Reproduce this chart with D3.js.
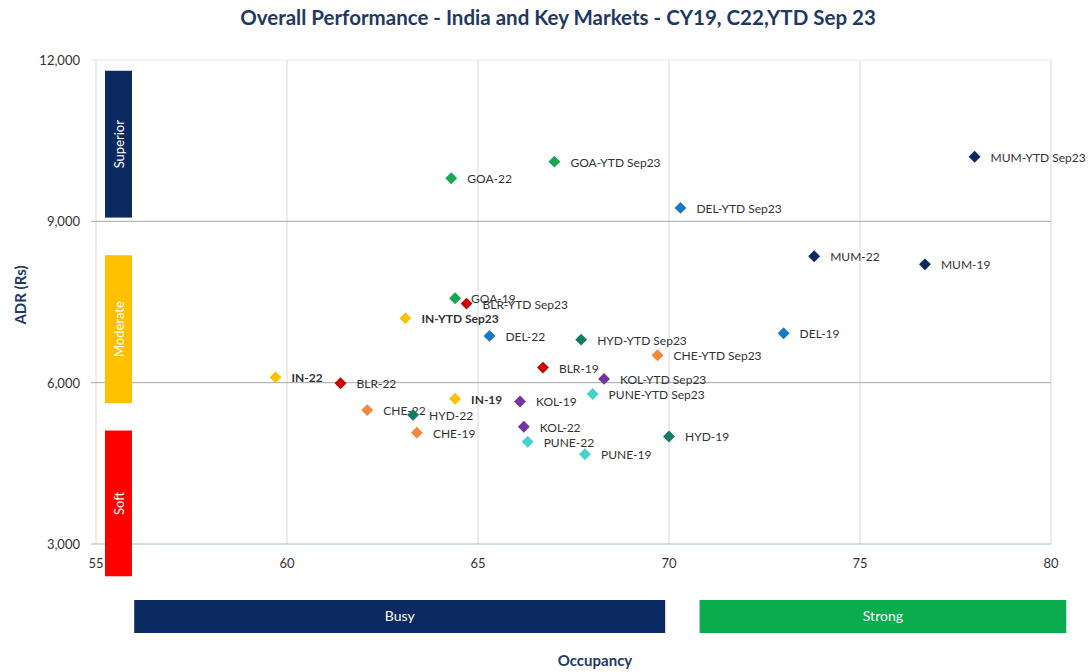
<!DOCTYPE html>
<html>
<head>
<meta charset="utf-8">
<script src="https://cdn.jsdelivr.net/npm/d3@7"></script>
<style>
  body { margin: 0; background: #fff; }
  svg text { font-family: Lato, "Open Sans", sans-serif; }
</style>
</head>
<body>
<div id="chart"></div>
<script>
// data
const labels = ['MUM-YTD Sep23', 'GOA-YTD Sep23', 'GOA-22', 'DEL-YTD Sep23', 'MUM-22', 'MUM-19',
  'GOA-19', 'BLR-YTD Sep23', 'IN-YTD Sep23', 'DEL-22', 'HYD-YTD Sep23', 'DEL-19', 'CHE-YTD Sep23',
  'BLR-19', 'IN-22', 'KOL-YTD Sep23', 'BLR-22', 'PUNE-YTD Sep23', 'IN-19', 'KOL-19', 'CHE-22',
  'HYD-22', 'KOL-22', 'CHE-19', 'HYD-19', 'PUNE-22', 'PUNE-19'];
const occupancy = [78.0, 67.0, 64.3, 70.3, 73.8, 76.7,
  64.4, 64.7, 63.1, 65.3, 67.7, 73.0, 69.7,
  66.7, 59.7, 68.3, 61.4, 68.0, 64.4, 66.1, 62.1,
  63.3, 66.2, 63.4, 70.0, 66.3, 67.8];
const adr = [10200, 10110, 9800, 9250, 8350, 8200,
  7570, 7470, 7200, 6870, 6800, 6920, 6510,
  6280, 6100, 6070, 5990, 5790, 5700, 5650, 5490,
  5400, 5180, 5070, 5000, 4900, 4670];

const xTicks = [55, 60, 65, 70, 75, 80];
const yTicks = [3000, 6000, 9000, 12000];

// ADR bands on the left and occupancy bands below
const adrBands = [
  { name: 'Superior', top: 11800, bottom: 9070, color: '#0c2a62' },
  { name: 'Moderate', top: 8370, bottom: 5620, color: '#ffc000' },
  { name: 'Soft', top: 5110, bottom: 2400, color: '#ff0000' }
];
const occBands = [
  { name: 'Busy', from: 56.0, to: 69.9, color: '#0c2a62' },
  { name: 'Strong', from: 70.8, to: 80.4, color: '#0aac4e' }
];

const marketColors = {
  MUM: '#0c2a62', DEL: '#1b78c6', GOA: '#16a850', IN: '#ffc000', BLR: '#cc0000',
  CHE: '#f0883e', HYD: '#127c62', KOL: '#7434a4', PUNE: '#46d2cc'
};

const width = 1092, height = 672;
const margin = { top: 60, right: 41, bottom: 128, left: 96 };

const svg = d3.select('#chart').append('svg')
  .attr('width', width)
  .attr('height', height);

const x = d3.scaleLinear().domain([55, 80]).range([margin.left, width - margin.right]);
const y = d3.scaleLinear().domain([3000, 12000]).range([height - margin.bottom, margin.top]);

// title
svg.append('text')
  .attr('x', 558).attr('y', 25)
  .attr('text-anchor', 'middle')
  .attr('font-size', 20.5).attr('font-weight', 'bold')
  .attr('fill', '#1f3864')
  .text('Overall Performance - India and Key Markets - CY19, C22,YTD Sep 23');

// vertical gridlines
svg.append('g').selectAll('line')
  .data(xTicks)
  .enter().append('line')
  .attr('x1', d => x(d)).attr('x2', d => x(d))
  .attr('y1', y(12000)).attr('y2', y(3000))
  .attr('stroke', '#d9d9d9');

// horizontal gridlines
svg.append('g').selectAll('line')
  .data(yTicks)
  .enter().append('line')
  .attr('x1', x(55) - 5).attr('x2', x(80))
  .attr('y1', d => y(d)).attr('y2', d => y(d))
  .attr('stroke', d => d === 12000 ? '#e6e6e6' : d === 3000 ? '#9cbcba' : '#a6a6a6');

// axis tick labels
svg.append('g').selectAll('text')
  .data(yTicks)
  .enter().append('text')
  .attr('x', x(55) - 16).attr('y', d => y(d) + 5)
  .attr('text-anchor', 'end')
  .attr('font-size', 13).attr('fill', '#333')
  .text(d => d3.format(',')(d));

svg.append('g').selectAll('text')
  .data(xTicks)
  .enter().append('text')
  .attr('x', d => x(d)).attr('y', y(3000) + 24)
  .attr('text-anchor', 'middle')
  .attr('font-size', 13).attr('fill', '#333')
  .text(d => d);

// ADR bands
const bandX = 105, bandW = 27;
const adrG = svg.append('g');
adrG.selectAll('rect')
  .data(adrBands)
  .enter().append('rect')
  .attr('x', bandX).attr('width', bandW)
  .attr('y', d => y(d.top))
  .attr('height', d => y(d.bottom) - y(d.top))
  .attr('fill', d => d.color);
adrG.selectAll('text')
  .data(adrBands)
  .enter().append('text')
  .attr('transform', d => `translate(${bandX + bandW / 2 + 5},${(y(d.top) + y(d.bottom)) / 2}) rotate(-90)`)
  .attr('text-anchor', 'middle')
  .attr('font-size', 13).attr('fill', '#fff')
  .text(d => d.name);

// occupancy bands
const occG = svg.append('g');
occG.selectAll('rect')
  .data(occBands)
  .enter().append('rect')
  .attr('x', d => x(d.from))
  .attr('width', d => x(d.to) - x(d.from))
  .attr('y', 600).attr('height', 33)
  .attr('fill', d => d.color);
occG.selectAll('text')
  .data(occBands)
  .enter().append('text')
  .attr('x', d => (x(d.from) + x(d.to)) / 2).attr('y', 621)
  .attr('text-anchor', 'middle')
  .attr('font-size', 14).attr('fill', '#fff')
  .text(d => d.name);

// axis titles
svg.append('text')
  .attr('x', 595).attr('y', 666)
  .attr('text-anchor', 'middle')
  .attr('font-size', 15).attr('font-weight', 'bold')
  .attr('fill', '#1f3864')
  .text('Occupancy');
svg.append('text')
  .attr('transform', `translate(26,${295}) rotate(-90)`)
  .attr('text-anchor', 'middle')
  .attr('font-size', 15).attr('font-weight', 'bold')
  .attr('fill', '#1f3864')
  .text('ADR (Rs)');

// points
const points = labels.map((label, i) => ({
  label,
  market: label.split('-')[0],
  occ: occupancy[i],
  adr: adr[i]
}));

const diamond = d3.symbol().type(d3.symbolDiamond2).size(90);

const pts = svg.append('g').selectAll('g')
  .data(points)
  .enter().append('g')
  .attr('transform', d => `translate(${x(d.occ)},${y(d.adr)})`);

pts.append('path')
  .attr('d', diamond)
  .attr('fill', d => marketColors[d.market]);

pts.append('text')
  .attr('x', 16).attr('y', 5)
  .attr('font-family', '"Liberation Sans", Arial, sans-serif')
  .attr('font-size', 12)
  .attr('font-weight', d => d.market === 'IN' ? 'bold' : 'normal')
  .attr('fill', '#333')
  .text(d => d.label);
</script>
</body>
</html>
